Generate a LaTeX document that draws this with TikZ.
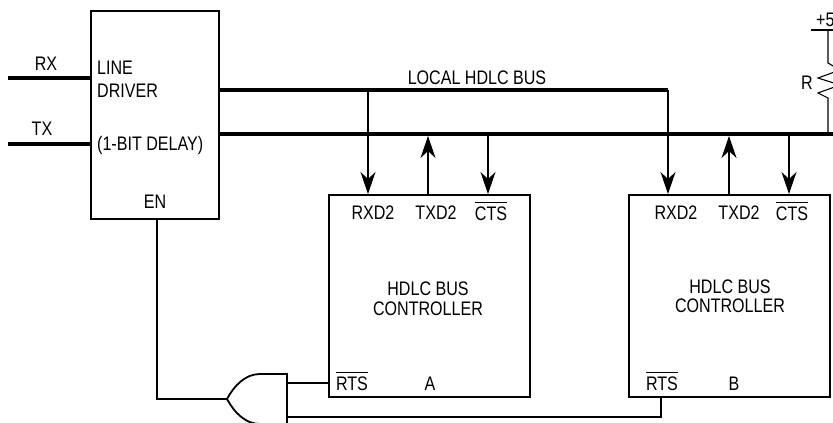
\documentclass[tikz,border=0pt]{standalone}
\usepackage{fontspec}
\setmainfont[FakeStretch=0.82]{Liberation Sans}
\usetikzlibrary{arrows.meta}
\tikzset{
  blockbox/.style={draw,line width=1.6pt,inner sep=0pt,rectangle,anchor=north west},
  wire/.style={line width=1.1pt},
  bus/.style={line width=4pt},
  sig/.style={line width=1.1pt,-{Stealth[length=22pt,width=15pt,inset=7pt]}},
  lbl/.style={inner sep=0pt,font=\fontsize{19.6}{21}\selectfont},
  gate/.style={line width=1.8pt},
}
\newcommand{\barlabel}[1]{$\overline{\mbox{\rule{0pt}{16pt}#1}}$}
\begin{document}
\begin{tikzpicture}[x=1pt,y=-1pt]
\useasboundingbox (0,0) rectangle (833,423);
\clip (0,0) rectangle (833,423);
% blocks
\node[blockbox,minimum width=128pt,minimum height=208pt] (drv) at (90,10) {};
\node[blockbox,minimum width=201pt,minimum height=202pt] (ctlA) at (328,194) {};
\node[blockbox,minimum width=201pt,minimum height=202pt] (ctlB) at (628,194) {};
% bus ends
\coordinate (rxs) at (8,78);   \coordinate (rxe) at (90,78);
\coordinate (txs) at (8,144);  \coordinate (txe) at (90,144);
\coordinate (b1s) at (218,90); \coordinate (b1e) at (668,90);
\coordinate (b2s) at (218,134);\coordinate (b2e) at (833,134);
\draw[bus] (rxs) -- (rxe);
\draw[bus] (txs) -- (txe);
\draw[bus] (b1s) -- (b1e);
\draw[bus] (b2s) -- (b2e);
% signals A
\draw[sig] (368,90) -- (368,194);
\draw[sig] (428,194) -- (428,136);
\draw[sig] (488,134) -- (488,194);
% signals B
\draw[sig] (668,90) -- (668,194);
\draw[sig] (729,194) -- (729,136);
\draw[sig] (789,134) -- (789,194);
% OR gate
\coordinate (tip) at (227,399);
\coordinate (gtop) at (287,374);
\coordinate (gbot) at (287,424);
\draw[gate] (gbot) -- (gtop) -- (260,374) .. controls (245,374) and (234,386) .. (tip)
   .. controls (234,412) and (245,424) .. (260,424) -- (gbot);
% wires
\draw[wire] (157,218) -- (157,399) -- (tip);
\draw[wire] (287,383) -- (328,383);
\draw[wire] (287,417) -- (661,417) -- (661,396);
% pull-up
\draw[wire] (811,30) -- (833,30);
\draw[wire] (828,30) -- (828,63) -- (840,70) -- (818,78) -- (840,85) -- (818,93) -- (828,98) -- (828,134);
% labels
\node[lbl] (lrx) at (46,64) {RX};
\node[lbl] (ltx) at (42,129) {TX};
\node[lbl,anchor=west] (l1) at (97,68) {LINE};
\node[lbl,anchor=west] (l2) at (97,91) {DRIVER};
\node[lbl,anchor=west] (l3) at (97,145) {(1-BIT DELAY)};
\node[lbl] (len) at (155,202) {EN};
\node[lbl] (lbus) at (477,78) {LOCAL HDLC BUS};
\node[lbl,anchor=west] (lv) at (816,20) {+5};
\node[lbl] (lr) at (807,83) {R};
\node[lbl] (a1) at (373,213) {RXD2};
\node[lbl] (a2) at (436,213) {TXD2};
\node[lbl,anchor=base] (a3) at (491,220) {\barlabel{CTS}};
\node[lbl] (a4) at (428,289) {HDLC BUS};
\node[lbl] (a5) at (428,309) {CONTROLLER};
\node[lbl,anchor=base] (a6) at (352,390) {\barlabel{RTS}};
\node[lbl] (a7) at (430,384) {A};
\node[lbl] (b1) at (676,213) {RXD2};
\node[lbl] (b2) at (739,213) {TXD2};
\node[lbl,anchor=base] (b3) at (792,220) {\barlabel{CTS}};
\node[lbl] (b4) at (730,287) {HDLC BUS};
\node[lbl] (b5) at (730,306) {CONTROLLER};
\node[lbl,anchor=base] (b6) at (662,390) {\barlabel{RTS}};
\node[lbl] (b7) at (734,384) {B};
\end{tikzpicture}
\end{document}
